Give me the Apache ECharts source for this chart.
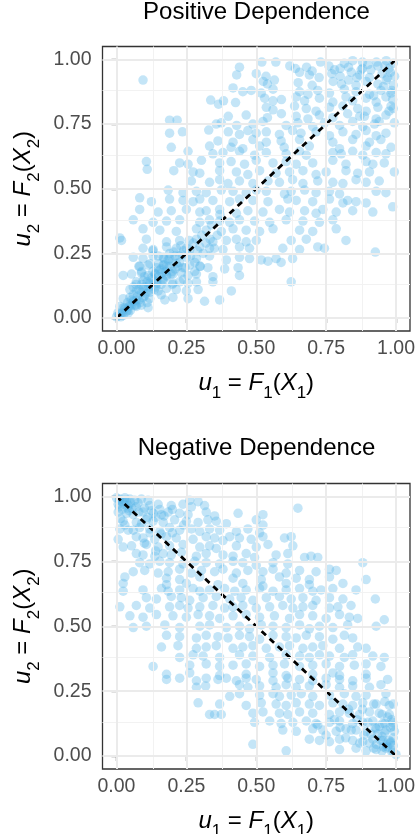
<!DOCTYPE html>
<html>
<head>
<meta charset="utf-8">
<script src="https://cdn.jsdelivr.net/npm/echarts@6/dist/echarts.min.js"></script>
<style>
  html, body { margin: 0; padding: 0; background: #fff; }
  #chart { width: 420px; height: 834px; }
</style>
</head>
<body>
<div id="chart"></div>
<script>
const titles = ["Positive Dependence", "Negative Dependence"];
const tickValues = [0, 0.25, 0.5, 0.75, 1];
const minorValues = [0.125, 0.375, 0.625, 0.875];
const diagPos = [[0, 0], [1, 1]];
const diagNeg = [[0, 1], [1, 0]];

// u1, u2 pairs
const posPoints = [
  [0.52,0.99],[0.57,0.99],[0.815,0.985],[0.845,0.995],[0.88,0.99],[0.9,0.98],[0.965,0.995],[0.99,0.985],
  [0.44,0.97],[0.62,0.975],[0.64,0.965],[0.68,0.97],[0.76,0.975],[0.8,0.965],[0.83,0.97],[0.875,0.96],[0.935,0.975],[0.975,0.965],
  [0.5,0.945],[0.535,0.935],[0.655,0.95],[0.69,0.94],[0.725,0.93],[0.77,0.945],[0.8,0.935],[0.84,0.95],[0.87,0.94],[0.905,0.93],[0.95,0.945],[0.995,0.935],[0.43,0.94],
  [0.417,0.89],[0.525,0.915],[0.54,0.905],[0.565,0.92],[0.65,0.91],[0.7,0.9],[0.775,0.915],[0.805,0.905],[0.83,0.92],[0.857,0.9],[0.893,0.915],[0.935,0.905],[0.965,0.92],[0.99,0.9],[0.095,0.92],
  [0.452,0.875],[0.482,0.88],[0.518,0.87],[0.56,0.885],[0.655,0.875],[0.685,0.865],[0.72,0.88],[0.762,0.87],[0.815,0.885],[0.857,0.875],[0.905,0.865],[0.946,0.88],[0.982,0.87],
  [0.337,0.843],[0.365,0.827],[0.383,0.84],[0.426,0.833],[0.53,0.85],[0.56,0.84],[0.59,0.845],[0.643,0.855],[0.673,0.84],[0.726,0.85],[0.774,0.835],[0.821,0.855],[0.845,0.84],[0.893,0.85],[0.929,0.835],[0.964,0.855],[0.988,0.845],
  [0.536,0.815],[0.56,0.805],[0.637,0.82],[0.679,0.81],[0.714,0.8],[0.762,0.815],[0.81,0.82],[0.863,0.81],[0.893,0.8],[0.935,0.815],[0.982,0.82],
  [0.4,0.78],[0.464,0.785],[0.54,0.775],[0.59,0.79],[0.643,0.78],[0.685,0.77],[0.726,0.785],[0.774,0.775],[0.827,0.79],[0.887,0.78],[0.929,0.77],[0.964,0.785],
  [0.19,0.765],[0.217,0.765],[0.357,0.75],[0.375,0.755],[0.43,0.745],[0.488,0.75],[0.524,0.76],[0.607,0.745],[0.649,0.755],[0.702,0.74],[0.744,0.755],[0.798,0.745],[0.845,0.76],[0.881,0.74],[0.923,0.75],[0.994,0.755],
  [0.19,0.715],[0.236,0.72],[0.33,0.727],[0.4,0.72],[0.44,0.71],[0.47,0.725],[0.5,0.715],[0.536,0.72],[0.583,0.71],[0.63,0.725],[0.66,0.715],[0.714,0.72],[0.762,0.705],[0.81,0.72],[0.857,0.71],[0.893,0.725],[0.929,0.705],[0.964,0.715],
  [0.363,0.685],[0.417,0.68],[0.488,0.69],[0.536,0.68],[0.589,0.685],[0.655,0.69],[0.774,0.68],[0.845,0.69],[0.905,0.68],[0.946,0.69],
  [0.196,0.66],[0.333,0.665],[0.41,0.66],[0.452,0.655],[0.512,0.665],[0.6,0.66],[0.69,0.665],[0.798,0.655],[0.893,0.665],[0.982,0.66],
  [0.256,0.645],[0.345,0.635],[0.381,0.64],[0.44,0.645],[0.494,0.63],[0.536,0.64],[0.607,0.635],[0.655,0.645],[0.679,0.63],[0.774,0.64],[0.804,0.635],[0.845,0.645],[0.881,0.63],[0.929,0.64],[0.964,0.635],
  [0.107,0.605],[0.226,0.6],[0.256,0.595],[0.304,0.61],[0.369,0.6],[0.41,0.605],[0.458,0.595],[0.5,0.61],[0.56,0.6],[0.607,0.605],[0.643,0.595],[0.702,0.6],[0.774,0.61],[0.821,0.595],[0.893,0.605],[0.917,0.595],[0.958,0.6],
  [0.11,0.575],[0.205,0.57],[0.274,0.565],[0.298,0.56],[0.369,0.57],[0.429,0.565],[0.47,0.555],[0.512,0.57],[0.571,0.56],[0.619,0.565],[0.667,0.57],[0.714,0.555],[0.75,0.565],[0.821,0.57],[0.863,0.56],[0.905,0.565],[0.994,0.565],
  [0.268,0.53],[0.333,0.525],[0.369,0.535],[0.399,0.52],[0.44,0.53],[0.488,0.52],[0.542,0.53],[0.583,0.525],[0.63,0.535],[0.667,0.52],[0.72,0.53],[0.774,0.525],[0.81,0.52],[0.857,0.535],[0.893,0.525],[0.94,0.53],
  [0.185,0.495],[0.238,0.485],[0.286,0.49],[0.321,0.485],[0.375,0.495],[0.417,0.49],[0.464,0.485],[0.5,0.495],[0.536,0.49],[0.601,0.48],[0.625,0.49],[0.673,0.495],[0.714,0.485],[0.762,0.49],[0.798,0.48],[0.929,0.49],[0.964,0.485],
  [0.083,0.465],[0.125,0.45],[0.19,0.46],[0.238,0.455],[0.274,0.45],[0.298,0.46],[0.345,0.455],[0.405,0.45],[0.44,0.46],[0.488,0.455],[0.542,0.45],[0.613,0.46],[0.643,0.455],[0.702,0.45],[0.762,0.46],[0.81,0.445],[0.827,0.455],[0.857,0.45],[0.893,0.445],[0.988,0.43],
  [0.083,0.42],[0.149,0.41],[0.196,0.415],[0.25,0.42],[0.298,0.41],[0.321,0.415],[0.369,0.42],[0.429,0.405],[0.47,0.415],[0.524,0.41],[0.583,0.42],[0.619,0.41],[0.673,0.415],[0.714,0.405],[0.738,0.42],[0.786,0.41],[0.845,0.415],[0.917,0.41],
  [0.06,0.38],[0.131,0.37],[0.179,0.375],[0.226,0.38],[0.298,0.37],[0.333,0.38],[0.369,0.375],[0.405,0.37],[0.44,0.38],[0.494,0.375],[0.548,0.37],[0.607,0.38],[0.667,0.375],[0.726,0.37],[0.774,0.38],
  [0.012,0.31],[0.095,0.345],[0.155,0.34],[0.214,0.335],[0.286,0.345],[0.321,0.34],[0.375,0.335],[0.417,0.345],[0.464,0.34],[0.512,0.335],[0.56,0.345],[0.655,0.34],[0.702,0.335],[0.786,0.345],
  [0.018,0.3],[0.107,0.305],[0.179,0.295],[0.226,0.3],[0.286,0.305],[0.345,0.295],[0.393,0.3],[0.429,0.305],[0.464,0.295],[0.5,0.3],[0.625,0.3],[0.679,0.305],[0.821,0.3],
  [0.095,0.27],[0.131,0.265],[0.179,0.275],[0.214,0.27],[0.262,0.265],[0.298,0.275],[0.333,0.27],[0.381,0.265],[0.44,0.275],[0.476,0.27],[0.595,0.27],[0.655,0.265],[0.72,0.275],[0.744,0.27],[0.926,0.255],
  [0.06,0.235],[0.095,0.23],[0.131,0.24],[0.167,0.235],[0.19,0.23],[0.226,0.24],[0.25,0.235],[0.286,0.23],[0.333,0.24],[0.393,0.225],[0.44,0.235],[0.476,0.23],[0.518,0.225],[0.542,0.22],[0.571,0.23],[0.589,0.215],[0.63,0.23],
  [0.083,0.2],[0.113,0.205],[0.143,0.195],[0.167,0.205],[0.19,0.2],[0.214,0.21],[0.238,0.195],[0.262,0.205],[0.298,0.2],[0.327,0.195],[0.387,0.19],[0.435,0.195],
  [0.024,0.165],[0.054,0.17],[0.089,0.175],[0.113,0.165],[0.137,0.17],[0.161,0.175],[0.179,0.165],[0.202,0.17],[0.232,0.175],[0.256,0.165],[0.286,0.17],[0.345,0.16],[0.44,0.165],
  [0.071,0.14],[0.095,0.145],[0.119,0.135],[0.143,0.14],[0.167,0.145],[0.202,0.135],[0.226,0.14],[0.256,0.135],[0.286,0.14],[0.345,0.14],[0.625,0.14],
  [0.048,0.11],[0.071,0.105],[0.095,0.115],[0.119,0.11],[0.149,0.105],[0.179,0.115],[0.214,0.11],[0.25,0.105],[0.292,0.11],[0.411,0.105],
  [0.024,0.075],[0.048,0.08],[0.071,0.07],[0.095,0.08],[0.119,0.075],[0.173,0.07],[0.202,0.08],[0.256,0.075],[0.315,0.065],[0.369,0.07],
  [0.012,0.045],[0.03,0.04],[0.054,0.05],[0.071,0.045],[0.089,0.05],[0.113,0.04],
  [0.0,0.005],[0.012,0.015],[0.024,0.01],[0.042,0.02],
  [0.02,0.02],[0.03,0.035],[0.05,0.055],[0.06,0.065],[0.08,0.07],[0.09,0.1],[0.1,0.12],[0.12,0.13],[0.13,0.15],[0.15,0.16],
  [0.16,0.19],[0.18,0.2],[0.2,0.22],[0.21,0.24],[0.05,0.03],[0.07,0.05],[0.1,0.085],[0.12,0.1],[0.14,0.12],[0.04,0.06],
  [0.06,0.09],[0.08,0.11],[0.11,0.14],[0.13,0.18],[0.15,0.21],[0.17,0.23],[0.01,0.01],[0.015,0.005],[0.005,0.02],[0.035,0.025],
  [0.18,0.16],[0.2,0.18],[0.22,0.2],[0.24,0.26],[0.23,0.28],[0.26,0.3],[0.1,0.16],[0.07,0.13],[0.16,0.13],[0.19,0.25],
  [0.025,0.04],[0.04,0.03],[0.045,0.045],[0.055,0.07],[0.065,0.05],[0.075,0.085],[0.085,0.06],[0.09,0.13],[0.105,0.095],[0.115,0.12],
  [0.125,0.155],[0.135,0.11],[0.14,0.17],[0.145,0.135],[0.155,0.185],[0.165,0.15],[0.17,0.205],[0.175,0.18],[0.185,0.225],[0.195,0.17],
  [0.205,0.255],[0.21,0.19],[0.225,0.215],[0.235,0.245],[0.245,0.195],[0.25,0.27],[0.265,0.24],[0.275,0.29],[0.28,0.215],[0.29,0.26],
  [0.305,0.32],[0.31,0.25],[0.32,0.29],[0.335,0.305],[0.34,0.36],[0.35,0.27],[0.36,0.32],[0.37,0.4],[0.12,0.21],[0.09,0.18],
  [0.06,0.12],[0.15,0.24],[0.11,0.06],[0.16,0.09],[0.2,0.13],[0.24,0.15],[0.28,0.18],[0.3,0.2],[0.08,0.2],[0.13,0.26],
  [0.91,0.96],[0.93,0.99],[0.96,0.975],[0.98,0.95],[0.97,0.93],[0.955,0.895],[0.985,0.88],[0.92,0.86],[0.86,0.93],[0.88,0.965],
  [0.99,0.81],[0.975,0.8],[0.94,0.76],[0.87,0.78],[0.73,0.99],[0.78,0.96],[0.7,0.955]
];

// u1, u2 pairs
const negPoints = [
  [0,0.995],[0.012,0.99],[0.03,0.985],[0.048,0.99],[0.065,0.985],[0.089,0.99],[0.113,0.985],[0.262,0.985],[0.292,0.98],
  [0.006,0.97],[0.042,0.965],[0.077,0.975],[0.119,0.965],[0.149,0.97],[0.196,0.965],[0.238,0.97],[0.268,0.96],[0.315,0.965],[0.649,0.955],
  [0.006,0.94],[0.036,0.935],[0.06,0.93],[0.095,0.94],[0.131,0.935],[0.161,0.93],[0.185,0.94],[0.226,0.935],[0.256,0.93],[0.321,0.94],[0.351,0.925],[0.435,0.935],[0.524,0.93],
  [0.024,0.905],[0.071,0.9],[0.107,0.91],[0.131,0.905],[0.167,0.9],[0.208,0.91],[0.25,0.905],[0.292,0.9],[0.327,0.91],[0.357,0.905],[0.393,0.895],[0.5,0.91],[0.524,0.89],
  [0.012,0.875],[0.042,0.87],[0.083,0.88],[0.119,0.875],[0.155,0.865],[0.19,0.88],[0.226,0.87],[0.268,0.875],[0.298,0.865],[0.333,0.875],[0.369,0.87],[0.429,0.865],[0.47,0.875],[0.512,0.86],
  [0.006,0.835],[0.071,0.845],[0.095,0.84],[0.137,0.835],[0.179,0.845],[0.214,0.84],[0.274,0.835],[0.321,0.845],[0.351,0.84],[0.381,0.83],[0.405,0.845],[0.44,0.84],[0.482,0.835],[0.524,0.845],[0.601,0.84],[0.625,0.845],
  [0.024,0.805],[0.054,0.81],[0.107,0.815],[0.149,0.805],[0.19,0.81],[0.238,0.815],[0.298,0.805],[0.333,0.81],[0.357,0.8],[0.429,0.81],[0.5,0.805],[0.542,0.815],[0.631,0.81],
  [0.071,0.78],[0.095,0.775],[0.137,0.77],[0.167,0.78],[0.196,0.775],[0.232,0.785],[0.286,0.77],[0.321,0.78],[0.381,0.775],[0.417,0.77],[0.464,0.78],[0.494,0.765],[0.571,0.775],[0.613,0.78],[0.673,0.765],[0.696,0.77],[0.72,0.765],
  [0.083,0.745],[0.119,0.74],[0.155,0.75],[0.19,0.745],[0.238,0.74],[0.28,0.75],[0.321,0.745],[0.369,0.74],[0.417,0.75],[0.452,0.745],[0.5,0.735],[0.56,0.745],[0.613,0.74],[0.881,0.745],
  [0.06,0.71],[0.101,0.715],[0.149,0.705],[0.185,0.71],[0.226,0.72],[0.268,0.705],[0.304,0.715],[0.351,0.71],[0.381,0.72],[0.429,0.705],[0.47,0.715],[0.524,0.71],[0.56,0.72],[0.607,0.705],[0.655,0.715],[0.714,0.71],[0.762,0.72],[0.786,0.715],
  [0.03,0.69],[0.179,0.685],[0.226,0.68],[0.298,0.69],[0.417,0.685],[0.518,0.68],[0.583,0.69],[0.643,0.685],[0.69,0.68],[0.762,0.69],[0.893,0.68],
  [0.024,0.665],[0.179,0.66],[0.25,0.665],[0.363,0.66],[0.452,0.665],[0.524,0.655],[0.607,0.665],[0.69,0.66],[0.81,0.665],
  [0.024,0.635],[0.095,0.64],[0.161,0.645],[0.185,0.635],[0.226,0.64],[0.274,0.645],[0.298,0.635],[0.333,0.64],[0.387,0.645],[0.423,0.635],[0.464,0.64],[0.512,0.645],[0.56,0.635],[0.607,0.64],[0.655,0.645],[0.702,0.635],[0.732,0.64],[0.774,0.645],[0.857,0.64],
  [0.107,0.61],[0.143,0.605],[0.196,0.615],[0.232,0.61],[0.262,0.6],[0.31,0.61],[0.357,0.615],[0.405,0.605],[0.446,0.61],[0.488,0.6],[0.536,0.61],[0.583,0.615],[0.625,0.605],[0.667,0.61],[0.714,0.6],[0.762,0.61],[0.81,0.605],[0.926,0.605],
  [0.012,0.575],[0.071,0.58],[0.119,0.57],[0.19,0.575],[0.226,0.58],[0.256,0.57],[0.298,0.575],[0.345,0.58],[0.387,0.57],[0.417,0.575],[0.452,0.58],[0.5,0.57],[0.548,0.575],[0.595,0.58],[0.631,0.57],[0.667,0.575],[0.702,0.58],[0.762,0.57],[0.792,0.575],[0.839,0.58],
  [0.048,0.54],[0.095,0.535],[0.143,0.545],[0.202,0.54],[0.25,0.535],[0.292,0.545],[0.333,0.54],[0.369,0.53],[0.417,0.54],[0.464,0.545],[0.512,0.535],[0.565,0.54],[0.619,0.53],[0.655,0.545],[0.702,0.54],[0.75,0.53],[0.798,0.545],[0.833,0.535],[0.863,0.53],[0.958,0.525],
  [0.06,0.495],[0.107,0.5],[0.173,0.505],[0.226,0.495],[0.298,0.5],[0.333,0.505],[0.393,0.495],[0.44,0.5],[0.476,0.49],[0.518,0.505],[0.56,0.5],[0.607,0.495],[0.655,0.505],[0.69,0.49],[0.726,0.5],[0.774,0.495],[0.827,0.505],[0.929,0.5],
  [0.179,0.465],[0.226,0.46],[0.286,0.455],[0.321,0.465],[0.363,0.46],[0.399,0.455],[0.44,0.465],[0.476,0.46],[0.512,0.45],[0.56,0.465],[0.607,0.46],[0.643,0.455],[0.679,0.465],[0.726,0.46],[0.774,0.45],[0.815,0.465],[0.845,0.455],
  [0.161,0.42],[0.22,0.425],[0.286,0.415],[0.321,0.42],[0.357,0.425],[0.417,0.415],[0.452,0.42],[0.488,0.425],[0.536,0.415],[0.583,0.42],[0.619,0.425],[0.667,0.415],[0.702,0.42],[0.738,0.425],[0.798,0.415],[0.863,0.42],[0.893,0.415],
  [0.226,0.38],[0.274,0.39],[0.31,0.385],[0.369,0.38],[0.44,0.39],[0.488,0.385],[0.548,0.38],[0.607,0.39],[0.655,0.385],[0.69,0.38],[0.726,0.39],[0.762,0.385],[0.815,0.38],[0.845,0.39],[0.917,0.385],[0.958,0.38],
  [0.131,0.345],[0.262,0.35],[0.321,0.355],[0.369,0.345],[0.417,0.35],[0.464,0.355],[0.512,0.345],[0.56,0.35],[0.601,0.355],[0.655,0.345],[0.702,0.35],[0.75,0.355],[0.798,0.345],[0.851,0.35],[0.893,0.355],[0.946,0.345],
  [0.179,0.315],[0.262,0.32],[0.369,0.31],[0.464,0.315],[0.56,0.32],[0.607,0.31],[0.702,0.315],[0.774,0.32],[0.798,0.31],[0.893,0.315],
  [0.179,0.295],[0.226,0.3],[0.286,0.29],[0.321,0.3],[0.363,0.295],[0.393,0.3],[0.429,0.29],[0.464,0.3],[0.5,0.295],[0.56,0.29],[0.613,0.3],[0.655,0.295],[0.702,0.29],[0.75,0.3],[0.798,0.295],[0.845,0.29],[0.893,0.3],[0.97,0.295],
  [0.286,0.265],[0.319,0.27],[0.44,0.275],[0.47,0.265],[0.512,0.27],[0.571,0.265],[0.607,0.275],[0.643,0.265],[0.69,0.27],[0.75,0.275],[0.798,0.265],[0.845,0.27],[0.905,0.265],[0.946,0.275],
  [0.405,0.23],[0.44,0.24],[0.512,0.235],[0.56,0.24],[0.583,0.23],[0.625,0.235],[0.661,0.24],[0.702,0.23],[0.762,0.235],[0.815,0.24],[0.857,0.23],[0.893,0.235],[0.964,0.24],
  [0.292,0.205],[0.369,0.2],[0.464,0.195],[0.518,0.205],[0.571,0.2],[0.607,0.195],[0.643,0.205],[0.69,0.2],[0.726,0.195],[0.774,0.205],[0.81,0.2],[0.845,0.195],[0.881,0.205],[0.929,0.2],[0.976,0.195],
  [0.333,0.16],[0.351,0.16],[0.375,0.16],[0.488,0.165],[0.524,0.17],[0.583,0.165],[0.613,0.16],[0.655,0.17],[0.702,0.165],[0.762,0.16],[0.798,0.17],[0.833,0.165],[0.869,0.16],[0.905,0.17],[0.94,0.165],[0.976,0.16],
  [0.494,0.13],[0.548,0.135],[0.589,0.125],[0.631,0.13],[0.679,0.135],[0.714,0.125],[0.762,0.13],[0.798,0.135],[0.845,0.125],[0.881,0.13],[0.917,0.135],[0.952,0.125],[0.988,0.13],
  [0.595,0.1],[0.643,0.095],[0.702,0.105],[0.738,0.1],[0.786,0.095],[0.821,0.105],[0.857,0.1],[0.893,0.095],[0.929,0.105],[0.964,0.1],[0.994,0.095],
  [0.488,0.045],[0.69,0.065],[0.726,0.06],[0.762,0.055],[0.798,0.065],[0.845,0.06],[0.881,0.055],[0.917,0.065],[0.952,0.06],[0.982,0.055],
  [0.607,0.02],[0.798,0.025],[0.857,0.03],[0.893,0.02],[0.929,0.025],[0.964,0.03],[0.988,0.02],[1.0,0.005],
  [0.97,0.035],[0.98,0.05],[0.95,0.075],[0.99,0.04],[0.96,0.09],[0.93,0.045],[0.98,0.11],[0.94,0.115],[0.91,0.085],[0.97,0.15],
  [0.99,0.07],[0.95,0.02],[0.02,0.98],[0.01,0.96],[0.03,0.995],[0.05,0.975],[0.02,0.95],[0.04,0.955],
  [0.01,0.985],[0.025,0.97],[0.035,0.98],[0.045,0.945],[0.055,0.955],[0.07,0.96],[0.08,0.94],[0.1,0.955],[0.11,0.92],[0.125,0.945],
  [0.14,0.92],[0.155,0.95],[0.17,0.925],[0.2,0.95],[0.015,0.915],[0.03,0.89],[0.06,0.87],[0.09,0.895],[0.12,0.86],[0.16,0.855],
  [0.2,0.86],[0.24,0.89],[0.1,0.82],[0.14,0.79],
  [0.985,0.015],[0.975,0.06],[0.965,0.045],[0.955,0.035],[0.945,0.06],[0.935,0.085],[0.92,0.03],[0.905,0.05],[0.99,0.115],[0.985,0.14],
  [0.96,0.125],[0.95,0.16],[0.925,0.11],[0.9,0.13],[0.885,0.08],[0.87,0.05],[0.86,0.14],[0.84,0.1],[0.82,0.07],[0.8,0.11],
  [0.78,0.14],[0.83,0.18],[0.88,0.18],[0.92,0.2],[0.96,0.21],[0.99,0.2],[0.75,0.08],[0.72,0.12]
];

const FONT = "Liberation Sans";
const pointColor = "#56B4E9";

const nameRich = {
  i: { fontFamily: FONT, fontStyle: "italic", fontSize: 24, color: "#000", lineHeight: 28, verticalAlign: "top" },
  n: { fontFamily: FONT, fontSize: 24, color: "#000", lineHeight: 28, verticalAlign: "top" },
  s: { fontFamily: FONT, fontSize: 17, color: "#000", lineHeight: 17, padding: [14, 0, 0, 0], verticalAlign: "top" },
};
const xName = "{i|u}{s|1}{n| = }{i|F}{s|1}{n|(}{i|X}{s|1}{n|)}";
const yName = "{i|u}{s|2}{n| = }{i|F}{s|2}{n|(}{i|X}{s|2}{n|)}";

const grids = [
  { left: 102.5, top: 46.5, width: 307.5, height: 284.5 },
  { left: 102.5, top: 483.5, width: 307.5, height: 285.5 },
];

function makeAxis(gridIndex, name, gap, margin) {
  return {
    gridIndex: gridIndex,
    type: "value",
    min: -0.05,
    max: 1.05,
    name: name,
    nameLocation: "middle",
    nameGap: gap,
    nameTextStyle: { rich: nameRich },
    axisLine: { show: false },
    splitLine: { show: false },
    axisTick: { show: true, customValues: tickValues, length: 5, lineStyle: { color: "#333", width: 1.3 } },
    axisLabel: {
      customValues: tickValues,
      formatter: (v) => v.toFixed(2),
      fontFamily: FONT,
      fontSize: 19.5,
      color: "#4d4d4d",
      margin: margin,
    },
  };
}

function gridLines() {
  const major = { color: "#ebebeb", width: 2, type: "solid" };
  const minor = { color: "#f2f2f2", width: 1, type: "solid" };
  const d = [];
  minorValues.forEach((v) => {
    d.push({ xAxis: v, lineStyle: minor });
    d.push({ yAxis: v, lineStyle: minor });
  });
  tickValues.forEach((v) => {
    d.push({ xAxis: v, lineStyle: major });
    d.push({ yAxis: v, lineStyle: major });
  });
  return d;
}

const xAxes = [0, 1].map((g) => makeAxis(g, xName, 40, 8));
const yAxes = [0, 1].map((g) => makeAxis(g, yName, 55, 11));

const series = [];
[posPoints, negPoints].forEach((pts, g) => {
  series.push({
    type: "line",
    xAxisIndex: g,
    yAxisIndex: g,
    data: [],
    z: 1,
    silent: true,
    markLine: {
      silent: true,
      symbol: ["none", "none"],
      label: { show: false },
      emphasis: { disabled: true },
      animation: false,
      data: gridLines(),
    },
  });
  series.push({
    type: "scatter",
    xAxisIndex: g,
    yAxisIndex: g,
    data: pts,
    z: 2,
    symbol: "circle",
    symbolSize: 9.5,
    itemStyle: { color: pointColor, opacity: 0.35 },
    emphasis: { disabled: true },
  });
  series.push({
    type: "line",
    xAxisIndex: g,
    yAxisIndex: g,
    data: g === 0 ? diagPos : diagNeg,
    z: 3,
    symbol: "none",
    lineStyle: { color: "#000", width: 2.8, type: [6, 5] },
    emphasis: { disabled: true },
  });
});

const options = {
  backgroundColor: "#fff",
  animation: false,
  grid: grids.map((g) => Object.assign({ show: true, borderColor: "#333", borderWidth: 1.3, backgroundColor: "#fff", outerBoundsMode: "none", containLabel: false }, g)),
  xAxis: xAxes,
  yAxis: yAxes,
  graphic: [
    { type: "text", x: 256.5, y: 12, style: { text: titles[0], fontFamily: FONT, fontSize: 24, fill: "#000", align: "center", verticalAlign: "middle" } },
    { type: "text", x: 256.5, y: 448, style: { text: titles[1], fontFamily: FONT, fontSize: 24, fill: "#000", align: "center", verticalAlign: "middle" } },
  ],
  series: series,
};

document.addEventListener("DOMContentLoaded", function () {
  const chart = echarts.init(document.getElementById("chart"));
  chart.setOption(options);
});
</script>
</body>
</html>
